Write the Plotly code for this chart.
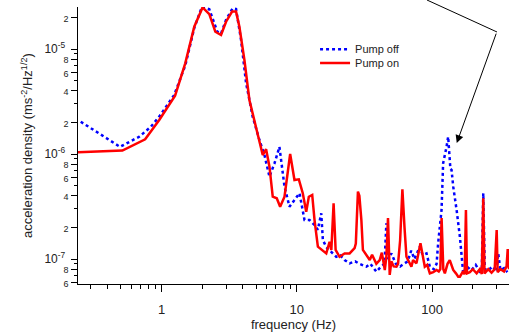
import numpy as np
import plotly.graph_objects as go

# ---- data ----
off_f = [0.253, 0.494, 0.684, 0.835, 0.962, 1.242, 1.5, 1.75, 1.992, 2.256, 2.586, 2.754, 3.0,
         3.357, 3.557, 3.873, 4.218, 4.72, 5.293, 5.766, 6.28, 6.84, 7.44, 8.11, 8.83, 9.61,
         10.47, 11.40, 12.42, 13.5, 14.3, 15.16, 15.58, 16.5, 17.5, 19.58, 21.0, 22.5, 24.56,
         27.0, 29.0, 32.7, 35.0, 38.7, 42.0, 44.5, 45.9, 47.0, 50.0, 54.0, 58.0, 62.0, 66.0,
         70.0, 74.0, 81.1, 85.0, 90.9, 96.2, 103.0, 107.9, 110.8, 117.4, 120.6, 124.2, 127.8,
         131.4, 134.0, 136.5, 139.2, 143.2, 151.7, 160.4, 169.8, 180.0, 195.0, 210.0, 225.0,
         233.0, 238.8, 245.0, 260.0, 280.0, 300.0, 308.0, 320.0, 340.0, 360.0]
off_v = [2.03e-6, 1.17e-6, 1.46e-6, 1.82e-6, 2.27e-6, 3.65e-6, 7.0e-6, 1.6e-5, 2.53e-5, 2.39e-5,
         1.46e-5, 1.4e-5, 1.9e-5, 2.44e-5, 2.4e-5, 1.22e-5, 4.74e-6, 2.27e-6, 1.36e-6, 9.77e-7,
         6.08e-7, 8.15e-7, 1.17e-6, 4.89e-7, 3.15e-7, 3.65e-7, 4.23e-7, 2.35e-7, 2.35e-7, 2.11e-7,
         1.9e-7, 2.72e-7, 1.52e-7, 1.3e-7, 1.2e-7, 1.05e-7, 1.08e-7, 9.8e-8, 9.09e-8, 9.5e-8,
         9.0e-8, 8.45e-8, 9.0e-8, 7.57e-8, 8.5e-8, 9.0e-8, 2.19e-7, 1.0e-7, 1.13e-7, 9.0e-8,
         8.5e-8, 9.0e-8, 9.5e-8, 1.2e-7, 1.0e-7, 1.31e-7, 1.1e-7, 1.13e-7, 8.45e-8, 8.0e-8,
         9.0e-8, 1.41e-7, 2.93e-7, 8.15e-7, 9.5e-7, 1.17e-6, 1.46e-6, 9.0e-7, 7.2e-7, 7.05e-7,
         4.89e-7, 2.93e-7, 1.63e-7, 7.31e-8, 8.5e-8, 7.8e-8, 8.8e-8, 7.6e-8, 8.0e-8, 4.23e-7,
         8.0e-8, 7.8e-8, 8.5e-8, 7.6e-8, 1.13e-7, 7.8e-8, 8.2e-8, 7.5e-8]

on_f = [0.2415, 0.514, 0.757, 0.962, 1.26, 1.498, 1.747, 2.012, 2.256, 2.50, 2.754, 3.0, 3.323,
        3.557, 3.764, 4.10, 4.463, 5.0, 5.60, 5.93, 6.28, 6.64, 7.11, 7.53, 8.11, 8.93, 9.61,
        10.35, 11.07, 11.74, 12.27, 13.0, 13.52, 14.31, 15.2, 16.51, 17.47, 18.0, 18.7, 19.36,
        20.7, 22.55, 24.56, 26.74, 27.3, 28.3, 29.0, 30.0, 30.8, 32.7, 34.6, 36.0, 38.7, 41.0,
        42.5, 44.7, 45.9, 47.2, 48.6, 50.0, 52.0, 54.5, 56.0, 58.0, 60.3, 62.5, 64.6, 66.4,
        70.3, 72.3, 76.6, 82.0, 85.0, 88.3, 92.0, 96.2, 102.0, 107.9, 112.0, 115.0, 117.5,
        121.0, 124.2, 130.0, 135.0, 143.2, 150.0, 155.9, 160.4, 168.0, 174.0, 177.8, 181.0,
        190.0, 200.0, 213.3, 225.0, 233.0, 238.8, 244.0, 260.0, 275.0, 290.0, 300.0, 305.0,
        320.0, 340.0, 355.0, 362.0, 370.0]
on_v = [1.04e-6, 1.08e-6, 1.38e-6, 2.11e-6, 3.6e-6, 7.31e-6, 1.63e-5, 2.49e-5, 2.15e-5, 1.46e-5,
        1.36e-5, 1.82e-5, 2.27e-5, 2.27e-5, 1.63e-5, 7.86e-6, 3.27e-6, 1.82e-6, 9.77e-7, 1.11e-6,
        7.57e-7, 3.92e-7, 3.79e-7, 3.15e-7, 3.92e-7, 1.0e-6, 5.65e-7, 5.74e-7, 4.23e-7, 2.82e-7,
        3.92e-7, 4.07e-7, 2.35e-7, 1.31e-7, 1.22e-7, 1.13e-7, 1.46e-7, 1.22e-7, 3.4e-7, 1.22e-7,
        1.05e-7, 1.13e-7, 1.13e-7, 1.27e-7, 1.4e-7, 4.38e-7, 4.0e-7, 2.35e-7, 1.22e-7, 1.09e-7,
        9.77e-8, 1.1e-7, 9.0e-8, 9.77e-8, 1.15e-7, 7.86e-8, 1.05e-7, 2.46e-7, 7.05e-8, 9.5e-8,
        8.5e-8, 8.45e-8, 9.0e-8, 1.5e-7, 4.62e-7, 2.0e-7, 1.05e-7, 9.77e-8, 8.45e-8, 9.77e-8,
        9.09e-8, 1.41e-7, 1.1e-7, 8.45e-8, 8.8e-8, 7.31e-8, 7.5e-8, 7.86e-8, 7.6e-8, 8.0e-8,
        2.46e-7, 8.0e-8, 7.31e-8, 9.0e-8, 9.77e-8, 7.86e-8, 7.3e-8, 6.78e-8, 6.78e-8, 7.5e-8,
        7.2e-8, 2.93e-7, 7.3e-8, 7.5e-8, 8.0e-8, 7.31e-8, 8.0e-8, 7.2e-8, 3.79e-7, 7.3e-8,
        8.0e-8, 7.4e-8, 8.0e-8, 1.89e-7, 7.5e-8, 8.0e-8, 7.6e-8, 8.5e-8, 1.24e-7, 8.0e-8]

x_major = [1, 10, 100]
x_major_text = ["1", "10", "100"]
x_minor = [0.3, 0.4, 0.5, 0.6, 0.7, 0.8, 0.9, 2, 3, 4, 5, 6, 7, 8, 9,
           20, 30, 40, 50, 60, 70, 80, 90, 200, 300]

y_decades = [1e-5, 1e-6, 1e-7]
y_decade_text = ["10<sup>-5</sup>", "10<sup>-6</sup>", "10<sup>-7</sup>"]
y_labeled_minor = [2e-5, 8e-6, 6e-6, 4e-6, 2e-6, 8e-7, 6e-7, 4e-7, 2e-7, 8e-8, 6e-8]
y_labeled_minor_text = ["2", "8", "6", "4", "2", "8", "6", "4", "2", "8", "6"]
y_minor = [9e-6, 7e-6, 5e-6, 3e-6, 9e-7, 7e-7, 5e-7, 3e-7, 9e-8, 7e-8]

FONT = "Arial, Liberation Sans, sans-serif"
TXT = "#222222"

fig = go.Figure()
fig.add_trace(go.Scatter(x=off_f, y=off_v, mode="lines", name="Pump off", legend="legend",
                         line=dict(color="#0000FF", width=2.5, dash="dot")))
fig.add_trace(go.Scatter(x=on_f, y=on_v, mode="lines", name="Pump on", legend="legend2",
                         line=dict(color="#FF0000", width=2.5)))

ytickvals = y_decades + y_labeled_minor
yticktext = ["<span style='font-size:12px'>%s</span>&nbsp;" % t for t in y_decade_text] + \
            ["<span style='font-size:9px'>%s</span>" % t for t in y_labeled_minor_text]

legend_common = dict(xanchor="left", yanchor="top", bgcolor="rgba(0,0,0,0)",
                     font=dict(size=11, color=TXT, family=FONT), itemwidth=30)

fig.update_layout(
    width=509, height=335,
    margin=dict(l=78, r=0, t=7, b=51),
    paper_bgcolor="white", plot_bgcolor="white",
    font=dict(family=FONT, size=12, color=TXT),
    showlegend=True,
    legend=dict(x=0.55, y=0.9, **legend_common),
    legend2=dict(x=0.55, y=0.85, **legend_common),
    xaxis=dict(type="log", range=[np.log10(0.2415), np.log10(370)],
               showgrid=False, zeroline=False, showline=True, linecolor="black", linewidth=1,
               ticks="outside", ticklen=7, tickwidth=1, tickcolor="black",
               tickmode="array", tickvals=x_major, ticktext=x_major_text,
               tickfont=dict(size=13, color=TXT), ticklabelstandoff=6,
               minor=dict(tickmode="array", tickvals=x_minor, ticks="outside",
                          ticklen=4, tickwidth=1, tickcolor="black", showgrid=False),
               title=dict(text="frequency (Hz)", font=dict(size=13, color=TXT), standoff=1),
               mirror=False),
    yaxis=dict(type="log", range=[-7.238, -4.6],
               showgrid=False, zeroline=False, showline=True, linecolor="black", linewidth=1,
               ticks="outside", ticklen=6, tickwidth=1, tickcolor="black",
               tickmode="array", tickvals=ytickvals, ticktext=yticktext,
               tickfont=dict(size=12, color=TXT),
               minor=dict(tickmode="array", tickvals=y_minor, ticks="outside",
                          ticklen=3, tickwidth=1, tickcolor="black", showgrid=False),
               title=dict(text="acceleration density (ms<sup>-2</sup>/Hz<sup>1/2</sup>)",
                          font=dict(size=13, color=TXT), standoff=8)),
)

# annotation arrow pointing at the ~130 Hz pump peak
fig.add_shape(type="line", xref="paper", yref="paper",
              x0=0.8097, y0=1.0253, x1=0.9722, y1=0.9097,
              line=dict(color="black", width=1))
fig.add_annotation(x=np.log10(152), y=np.log10(1.27e-6), xref="x", yref="y",
                   ax=40, ay=-111, axref="pixel", ayref="pixel", text="",
                   showarrow=True, arrowhead=2, arrowsize=1.6, arrowwidth=1,
                   arrowcolor="black")

fig.write_html("out.html")
